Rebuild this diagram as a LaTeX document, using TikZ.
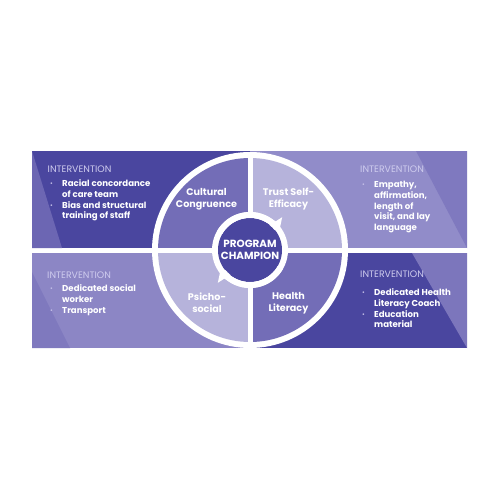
\documentclass[tikz,border=0pt]{standalone}
\usepackage{fontspec}
\setmainfont{Poppins}
\usepackage{xcolor}
\definecolor{cDark}{HTML}{4A469F}
\definecolor{cDarkLt}{HTML}{6C66B3}
\definecolor{cMid}{HTML}{736DB7}
\definecolor{cLight}{HTML}{B6B3DB}
\definecolor{cBandTR}{HTML}{918CC9}
\definecolor{cBandTRdk}{HTML}{7F79BF}
\definecolor{cBandBL}{HTML}{8C86C5}
\definecolor{cBandBLdk}{HTML}{7F79BE}
\definecolor{cBandBRlt}{HTML}{7C76BC}
\definecolor{cHead}{HTML}{CFCCEE}
\definecolor{cDot}{HTML}{C4C0E8}
\usepackage{tikz}
\usetikzlibrary{positioning,arrows.meta,calc}
\newcommand{\itm}{\makebox[13pt][l]{\hspace{1pt}\raisebox{0.8pt}{\color{cDot}\fontsize{5.5}{6}\selectfont\textbullet}}}
\newcommand{\nitm}{\makebox[13pt][l]{}}
\tikzset{
  quad-label/.style={text=white,align=center,font=\fontsize{9.6}{12}\selectfont\bfseries,
    inner sep=0pt},
  champ-label/.style={text=white,align=center,font=\fontsize{10.4}{12}\selectfont\bfseries,
    inner sep=0pt},
  head-label/.style={text=cHead,anchor=base west,inner sep=0pt,
    font=\fontsize{9.4}{11}\selectfont},
  item-list/.style={text=white,anchor=base west,inner sep=0pt,
    font=\fontsize{8.6}{10.8}\selectfont\bfseries},
  cycle-arrow/.style={draw=white,line width=6pt,
    -{Triangle[width=19pt,length=10pt]}},
}

\begin{document}
\begin{tikzpicture}[x=1pt,y=-1pt]
  \useasboundingbox (0,0) rectangle (500,500);
  \fill[white] (0,0) rectangle (500,500);
  % bands behind the wheel
  \fill[cDark] (32,151) rectangle (250,248);
  \fill[cDarkLt] (32,151) -- (32,248) -- (62,248) -- cycle;
  \fill[cBandTR] (250,151) rectangle (467,248);
  \fill[cBandTRdk] (416,151) -- (467,151) -- (467,248) -- cycle;
  \fill[cBandBL] (32,253) rectangle (250,348);
  \fill[cBandBLdk] (32,272) -- (32,348) -- (70,348) -- cycle;
  \fill[cDark] (250,253) rectangle (467,348);
  \fill[cBandBRlt] (412,253) -- (467,348) -- (467,253) -- cycle;
  % wheel
  \coordinate (hub) at (250,250);
  \fill[white] (hub) circle (98pt);
  \begin{scope}
    \clip (hub) circle (92pt);
    \fill[cMid] (150,150) rectangle (247.5,247.5);
    \fill[cLight] (252.5,150) rectangle (350,247.5);
    \fill[cLight] (150,252.5) rectangle (247.5,350);
    \fill[cMid] (252.5,252.5) rectangle (350,350);
  \end{scope}
  \fill[white] (hub) circle (38pt);
  \node[circle,fill=cDark,minimum size=64pt,inner sep=0pt] (champ) at (hub) {};
  \draw[cycle-arrow] ($(hub)+(150:35pt)$) arc[start angle=150,end angle=33,radius=35pt];
  \draw[cycle-arrow] ($(hub)+(330:35pt)$) arc[start angle=330,end angle=213,radius=35pt];
  \fill[cDark] (hub) circle (31.5pt);
  \node[champ-label] (champ-txt) at (hub) {PROGRAM\\CHAMPION};
  % quadrant labels
  \node[quad-label] (q-cult) at (206.5,199) {Cultural\\Congruence};
  \node[quad-label] (q-trust) at (288.5,199.5) {Trust Self-\\Efficacy};
  \node[quad-label] (q-psy) at (207,303) {Psicho-\\social};
  \node[quad-label] (q-heal) at (288.5,303) {Health\\Literacy};
  % interventions
  \node[head-label] (h-tl) at (47.5,172.5) {INTERVENTION};
  \node[item-list] (i-tl) at (49,186.5) {%
    \begin{tabular}[t]{@{}l@{}l@{}}
      \itm & Racial concordance\\
      \nitm & of care team\\
      \itm & Bias and structural\\
      \nitm & training of staff
    \end{tabular}};
  \node[head-label] (h-tr) at (360,172.5) {INTERVENTION};
  \node[item-list] (i-tr) at (361,187.5) {%
    \begin{tabular}[t]{@{}l@{}l@{}}
      \itm & Empathy,\\
      \nitm & affirmation,\\
      \nitm & length of\\
      \nitm & visit, and lay\\
      \nitm & language
    \end{tabular}};
  \node[head-label] (h-bl) at (47,278.5) {INTERVENTION};
  \node[item-list] (i-bl) at (49,291.5) {%
    \begin{tabular}[t]{@{}l@{}l@{}}
      \itm & Dedicated social\\
      \nitm & worker\\
      \itm & Transport
    \end{tabular}};
  \node[head-label] (h-br) at (360,277.5) {INTERVENTION};
  \node[item-list] (i-br) at (361,295.5) {%
    \begin{tabular}[t]{@{}l@{}l@{}}
      \itm & Dedicated Health\\
      \nitm & Literacy Coach\\
      \itm & Education\\
      \nitm & material
    \end{tabular}};
\end{tikzpicture}
\end{document}
